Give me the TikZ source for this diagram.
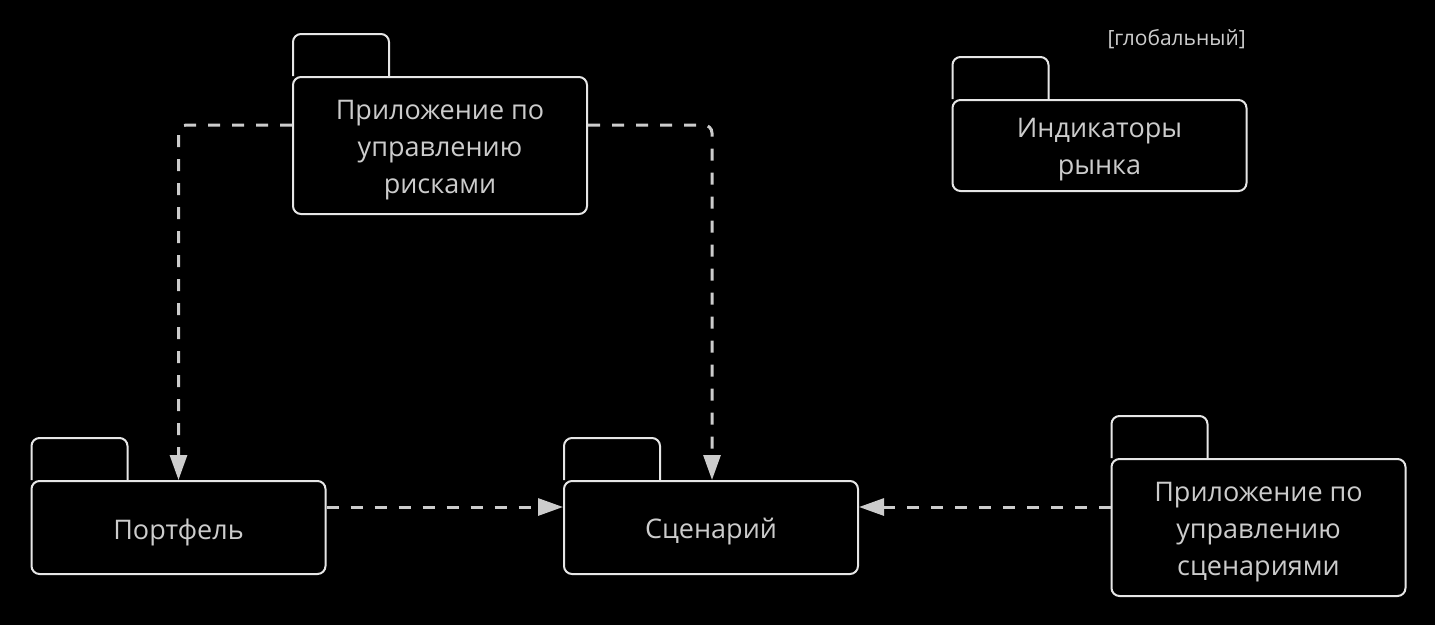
\documentclass[tikz,border=0pt]{standalone}
\usepackage{fontspec}
\setmainfont{Open Sans}
\usetikzlibrary{arrows.meta}
\definecolor{lineC}{HTML}{E6E6E6}
\definecolor{textC}{HTML}{CCCCCC}
\definecolor{arrC}{HTML}{CCCCCC}
\tikzset{
  pkgbody/.style={draw=lineC, line width=2pt, rounded corners=8pt, fill=black,
    minimum width=294pt, inner sep=0pt},
  pkgtext/.style={align=center, text=textC, yshift=-4.5pt,
    font=\fontsize{27}{37}\selectfont, inner sep=0pt},
  pkgtab/.style={draw=lineC, line width=2pt, rounded corners=8pt},
  dep/.style={draw=arrC, line width=3pt, dash pattern=on 12pt off 12pt,
    -{Triangle[length=25pt,width=17pt]}, rounded corners=8pt},
}
\newcommand{\pkgtabfor}[1]{%
  \draw[pkgtab] ([xshift=1pt]#1.north west) -- ++(0,-42) -- ++(96,0) -- ++(0,42);}
\begin{document}
\begin{tikzpicture}[x=1pt,y=-1pt]
\fill[black] (0,0) rectangle (1435,625);
\useasboundingbox (0,0) rectangle (1435,625);

\node[pkgbody, minimum height=137pt,
  label={[pkgtext,name=riskT]center:{Приложение по\\управлению\\рисками}}] (risk) at (440,145.5) {};
\pkgtabfor{risk}
\node[pkgbody, minimum height=91pt,
  label={[pkgtext,name=indT]center:{Индикаторы\\рынка}}] (ind) at (1099.5,145.5) {};
\pkgtabfor{ind}
\node[text=textC, font=\fontsize{21}{24}\selectfont, anchor=east, inner sep=0pt] (glob)
  at (1246,39) {[глобальный]};
\node[pkgbody, minimum height=93pt,
  label={[pkgtext,name=portT]center:{Портфель}}] (port) at (178.5,527.5) {};
\pkgtabfor{port}
\node[pkgbody, minimum height=93pt,
  label={[pkgtext,name=scenT]center:{Сценарий}}] (scen) at (711,527.5) {};
\pkgtabfor{scen}
\node[pkgbody, minimum height=137pt,
  label={[pkgtext,name=sappT]center:{Приложение по\\управлению\\сценариями}}] (sapp) at (1258.5,527.5) {};
\pkgtabfor{sapp}

\draw[dep] ([yshift=20.5pt]risk.west) -| (port.north);
\draw[dep] ([yshift=20.5pt]risk.east) -| ([xshift=1pt]scen.north);
\draw[dep] ([yshift=20.5pt]port.east) -- ([yshift=20.5pt]scen.west);
\draw[dep] ([yshift=20.5pt]sapp.west) -- ([yshift=20.5pt]scen.east);
\end{tikzpicture}
\end{document}
